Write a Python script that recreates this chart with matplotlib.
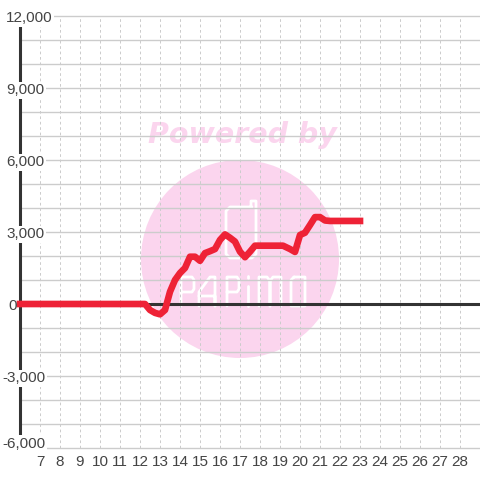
import matplotlib
matplotlib.use("Agg")
import matplotlib.pyplot as plt
from matplotlib.patches import Ellipse

# values
hours = [6, 12.25, 12.5, 12.75, 13, 13.25, 13.5, 13.75, 14, 14.25, 14.5, 14.75, 15, 15.25, 15.5, 15.75, 16, 16.25,
         16.5, 16.75, 17, 17.25, 17.5, 17.75, 18, 19.15, 19.5, 19.75, 20, 20.25, 20.5, 20.75, 21, 21.25, 21.5, 23]
values = [0, 0, -250, -370, -430, -250, 510, 1000, 1290, 1500, 1970, 1970, 1800, 2120, 2200, 2290, 2670, 2900,
          2760, 2600, 2180, 1950, 2180, 2430, 2430, 2430, 2290, 2170, 2875, 2970, 3290, 3620, 3620, 3480, 3460, 3460]
x_ticks = list(range(7, 29))
y_ticks = [-6000, -3000, 0, 3000, 6000, 9000, 12000]
y_grid = list(range(-6000, 13000, 1000))

DARK = "#333333"
TEXT = "#444444"
GRID = "#cccccc"
PINK = "#fbd5ee"

plt.rcParams["font.family"] = "Liberation Sans"

fig = plt.figure(figsize=(4.8, 4.8), dpi=100)
ax = fig.add_axes([20 / 480, 32 / 480, 460 / 480, 432 / 480])
ax.set_xlim(6, 29)
ax.set_ylim(-6000, 12000)


def px(x, y):
    # reference pixels to data coordinates, for the watermark and labels
    return 6 + (x - 20) / 20, (304 - y) / 24 * 1000


# watermark
ax.add_patch(Ellipse(px(240, 259), 198 / 20, 198 / 24 * 1000, color=PINK, lw=0, zorder=0.5))
wx, wy = px(242, 135)
ax.text(wx, wy, "Powered by", family="DejaVu Sans", weight="bold", style="oblique", fontsize=20.5,
        color=PINK, ha="center", va="center", zorder=0.5)
logo = [
    # phone
    [(252, 207), (230, 207), (226, 211), (226, 254), (230, 258), (252, 258), (256, 254), (256, 201), (251, 201), (251, 207)],
    # P
    [(181, 306), (181, 277), (192, 277), (194, 280), (194, 289), (192, 292), (181, 292)],
    # A
    [(199, 306), (199, 292), (210, 277), (215, 277), (215, 306), (215, 296), (199, 296)],
    # P
    [(227, 306), (227, 277), (237, 277), (239, 280), (239, 289), (237, 292), (227, 292)],
    # i
    [(248, 306), (248, 286)],
    [(248, 276), (248, 278)],
    # M
    [(259, 306), (259, 277), (267, 277), (270, 281), (270, 306), (270, 281), (273, 277), (281, 277), (281, 306)],
    # O
    [(294, 277), (305, 277), (305, 306), (291, 306), (291, 280), (294, 277)],
]
for stroke in logo:
    pts = [px(a, b) for a, b in stroke]
    ax.plot([p[0] for p in pts], [p[1] for p in pts], color="white", lw=2.0, zorder=0.6,
            solid_capstyle="round", solid_joinstyle="round")

# grid
ax.set_xticks(x_ticks)
ax.set_yticks(y_grid)
ax.set_yticklabels([])
ax.grid(False)
ax.hlines(y_grid, 6, 29, color=GRID, lw=1.0, zorder=1, clip_on=False)
ax.vlines(x_ticks, -6000, 12000, color=GRID, lw=0.72, linestyles=(0, (2.7, 2.7)), zorder=1)
ax.tick_params(length=0)
ax.tick_params(axis="x", labelsize=11, labelcolor=TEXT, pad=5)

for side in ["top", "right", "bottom"]:
    ax.spines[side].set_visible(False)
ax.spines["left"].set_color(DARK)
ax.spines["left"].set_linewidth(2.2)
ax.spines["left"].set_zorder(2)

ax.axhline(0, color=DARK, lw=2.2, zorder=2, clip_on=False)
ax.plot(hours, values, color="#ee2236", lw=4.8, zorder=3, clip_on=False,
        solid_capstyle="projecting", solid_joinstyle="round")

# y labels sit on the axis with a white box behind them
for v in y_ticks:
    left = 2 if v < 0 else (8 if v == 0 else 6)
    # the lowest label is pushed up so it stays clear of the x labels
    row = 442 if v == -6000 else 304 - v / 1000 * 24 + 1
    tx, ty = px(left, row)
    box = dict(facecolor="white", edgecolor="none", pad=1.2)
    ax.text(tx, ty, f"{v:,}", fontsize=11, color=TEXT, ha="left", va="center_baseline", zorder=4,
            clip_on=False, bbox=None if v == 0 else box)

fig.savefig("out.png", dpi=100, facecolor="white")
